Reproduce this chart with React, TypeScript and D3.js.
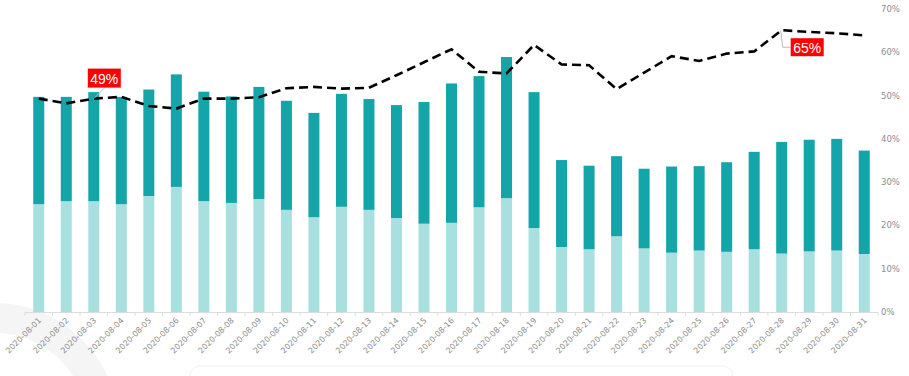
import React from "react";
import * as d3 from "d3";

const dates = [
  "2020-08-01","2020-08-02","2020-08-03","2020-08-04","2020-08-05","2020-08-06","2020-08-07","2020-08-08",
  "2020-08-09","2020-08-10","2020-08-11","2020-08-12","2020-08-13","2020-08-14","2020-08-15","2020-08-16",
  "2020-08-17","2020-08-18","2020-08-19","2020-08-20","2020-08-21","2020-08-22","2020-08-23","2020-08-24",
  "2020-08-25","2020-08-26","2020-08-27","2020-08-28","2020-08-29","2020-08-30","2020-08-31",
];
const lowerVals = [24.9,25.6,25.6,24.9,26.8,28.9,25.6,25.2,26.1,23.6,21.9,24.3,23.6,21.7,20.4,20.6,24.2,26.3,19.4,15.0,14.5,17.5,14.7,13.7,14.2,13.9,14.5,13.5,14.0,14.2,13.4];
const upperVals = [24.8,24.1,25.2,24.8,24.6,26.0,25.3,24.6,25.9,25.2,24.1,26.1,25.6,26.1,28.1,32.2,30.3,32.6,31.4,20.1,19.3,18.5,18.4,19.9,19.5,20.7,22.5,25.8,25.8,25.8,23.9];
const lineVals = [49.3,48.2,49.3,49.7,47.6,47.0,49.3,49.3,49.6,51.7,52.0,51.6,51.8,54.7,57.7,60.7,55.5,55.1,61.7,57.2,57.0,51.5,55.3,59.1,58.0,59.7,60.2,65.1,64.7,64.4,63.9];
const yTicks = [0,10,20,30,40,50,60,70];
const callouts = [
  { index: 2, text: "49%", side: "up" },
  { index: 27, text: "65%", side: "down" },
];

const W = 909, H = 376;
const left = 25, right = 878, top = 9, bottom = 312;
const DARK = "#14a5a9";
const LIGHT = "#a8e0e0";

export default function App() {
  const x = d3.scaleBand<string>().domain(dates).range([left, right]).paddingInner(0.6).paddingOuter(0.3);
  const y = d3.scaleLinear().domain([0, 70]).range([bottom, top]);
  const step = x.step();
  const cx = (d: string) => (x(d) as number) + x.bandwidth() / 2;
  const line = d3.line<number>().x((_, i) => cx(dates[i])).y((v) => y(v));

  return (
    <svg width={W} height={H} style={{ position: "absolute", left: 0, top: 0, background: "#fff" }}
      fontFamily="'DejaVu Sans', sans-serif">
      {/* faint background decorations */}
      <path d="M -10 318 A 110 110 0 0 1 100 400" fill="none" stroke="#f6f5f6" strokeWidth={30} />
      <rect x={190} y={366} width={543} height={40} rx={10} fill="#fff" stroke="#f0f0f0" />

      {/* bars */}
      {dates.map((d, i) => (
        <g key={d}>
          <rect x={x(d)} y={y(lowerVals[i])} width={x.bandwidth()} height={bottom - y(lowerVals[i])} fill={LIGHT} />
          <rect x={x(d)} y={y(lowerVals[i] + upperVals[i])} width={x.bandwidth()}
            height={y(lowerVals[i]) - y(lowerVals[i] + upperVals[i])} fill={DARK} />
        </g>
      ))}

      {/* x axis */}
      <line x1={left} x2={right} y1={bottom + 0.5} y2={bottom + 0.5} stroke="#dcdcdc" />
      {d3.range(dates.length + 1).map((i) => (
        <line key={i} x1={left + i * step} x2={left + i * step} y1={bottom} y2={bottom + 4} stroke="#dcdcdc" />
      ))}
      {dates.map((d) => (
        <text key={d} transform={`translate(${cx(d) + 3},${bottom + 9}) rotate(-45)`} textAnchor="end"
          fontSize={8} fill="#8c8c8c">{d}</text>
      ))}

      {/* right axis labels */}
      {yTicks.map((t) => (
        <text key={t} x={881} y={y(t)} dy="0.35em" fontSize={8.5} fill="#8c8c8c">{t}%</text>
      ))}

      {/* dashed line */}
      <path d={line(lineVals) as string} fill="none" stroke="#000" strokeWidth={2.6} strokeDasharray="9,5" />

      {/* callouts */}
      {callouts.map((c) => {
        const px = cx(dates[c.index]);
        const py = y(lineVals[c.index]);
        if (c.side === "up") {
          const bx = px - 6, by = py - 30;
          return (
            <g key={c.text}>
              <line x1={px} y1={py} x2={px + 11} y2={by + 19} stroke="#bbb" strokeWidth={1} />
              <rect x={bx} y={by} width={33} height={19} fill="#f00" />
              <text x={bx + 16.5} y={by + 15} textAnchor="middle" fontSize={14}
                fontFamily="'Liberation Sans', Arial, sans-serif" fill="#fff">{c.text}</text>
            </g>
          );
        }
        const bx = px + 9, by = py + 8;
        return (
          <g key={c.text}>
            <polyline points={`${px - 1},${py} ${px + 1},${py + 17} ${bx},${py + 17}`} fill="none" stroke="#bbb" strokeWidth={1} />
            <rect x={bx} y={by} width={33} height={18} fill="#f00" />
            <text x={bx + 16.5} y={by + 14.5} textAnchor="middle" fontSize={14}
              fontFamily="'Liberation Sans', Arial, sans-serif" fill="#fff">{c.text}</text>
          </g>
        );
      })}
    </svg>
  );
}
